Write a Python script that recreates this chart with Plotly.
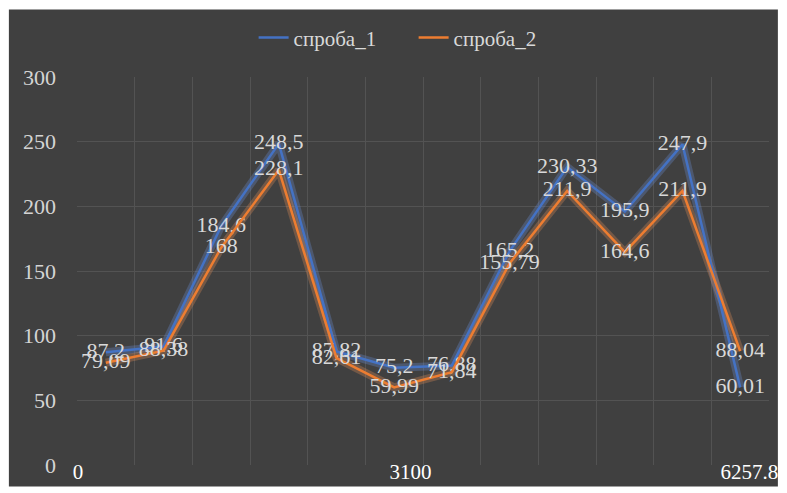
import plotly.graph_objects as go

# ---- data ----
categories = list(range(1, 13))
proba_1 = [87.2, 91.6, 184.6, 248.5, 87.82, 75.2, 76.88, 165.2, 230.33, 195.9, 247.9, 60.01]
proba_2 = [79.09, 88.38, 168, 228.1, 82.61, 59.99, 71.84, 155.79, 211.9, 164.6, 211.9, 88.04]
series_names = ["спроба_1", "спроба_2"]
x_tick_values = [0, 3100, 6257.8]
x_tick_labels = ["0", "3100", "6257.8"]
y_ticks = [0, 50, 100, 150, 200, 250, 300]

colors = ["#4472C4", "#ED7D31"]
glow = ["rgba(110,150,230,0.28)", "rgba(245,150,90,0.28)"]
FONT = "Liberation Serif"

def fmt(v):
    return f"{v:g}".replace(".", ",")

# map numeric x labels onto the category axis (label span across plot)
x_lo, x_hi = 0.517, 12.16
x_tick_pos = [x_lo + v / x_tick_values[-1] * (x_hi - x_lo) for v in x_tick_values]

fig = go.Figure()
for vals, g in zip([proba_1, proba_2], glow):
    fig.add_trace(go.Scatter(x=categories, y=vals, mode="lines",
                             line=dict(color=g, width=8), showlegend=False,
                             hoverinfo="skip"))
for vals, name, c in zip([proba_1, proba_2], series_names, colors):
    fig.add_trace(go.Scatter(x=categories, y=vals, mode="lines+text", name=name,
                             line=dict(color=c, width=2.5),
                             text=[fmt(v) for v in vals],
                             textposition="middle center",
                             textfont=dict(family=FONT, size=22, color="#d9d9d9")))

W, H = 787, 493
ml, mr, mt, mb = 77, 9, 77, 20
pw, ph = W - ml - mr, H - mt - mb

fig.update_layout(
    width=W, height=H,
    margin=dict(l=ml, r=mr, t=mt, b=mb),
    paper_bgcolor="white",
    plot_bgcolor="rgba(0,0,0,0)",
    font=dict(family=FONT, size=22, color="#d9d9d9"),
    showlegend=True,
    legend=dict(orientation="h", x=(418 - ml) / pw, xanchor="center",
                y=1 + (mt - 37) / ph, yanchor="middle",
                font=dict(family=FONT, size=21, color="#d9d9d9"),
                bgcolor="rgba(0,0,0,0)", itemwidth=30,
                entrywidth=115, entrywidthmode="pixels"),
    xaxis=dict(range=[0.5, 12.5], tickmode="array", tickvals=x_tick_pos,
               ticktext=x_tick_labels, showgrid=False, zeroline=False,
               showline=False, ticks="", ticklabeloverflow="allow",
               tickfont=dict(family=FONT, size=21, color="#ffffff"),
               anchor="free", position=0.02,
               minor=dict(tickmode="linear", tick0=0.5, dtick=1, showgrid=True,
                          gridcolor="#535353", gridwidth=1, ticks="")),
    yaxis=dict(range=[0, 300], tickvals=y_ticks, showgrid=True,
               gridcolor="#535353", gridwidth=1, zeroline=False, showline=False,
               ticks="", ticklabelstandoff=20,
               tickfont=dict(family=FONT, size=22, color="#d4d4d4")),
    shapes=[dict(type="rect", xref="paper", yref="paper",
                 x0=(8 - ml) / pw, x1=(W - ml) / pw,
                 y0=-(mb + 2) / ph, y1=1 + (mt - 8) / ph,
                 fillcolor="#404040", line=dict(width=0), layer="below")],
)

fig.write_html("out.html")
